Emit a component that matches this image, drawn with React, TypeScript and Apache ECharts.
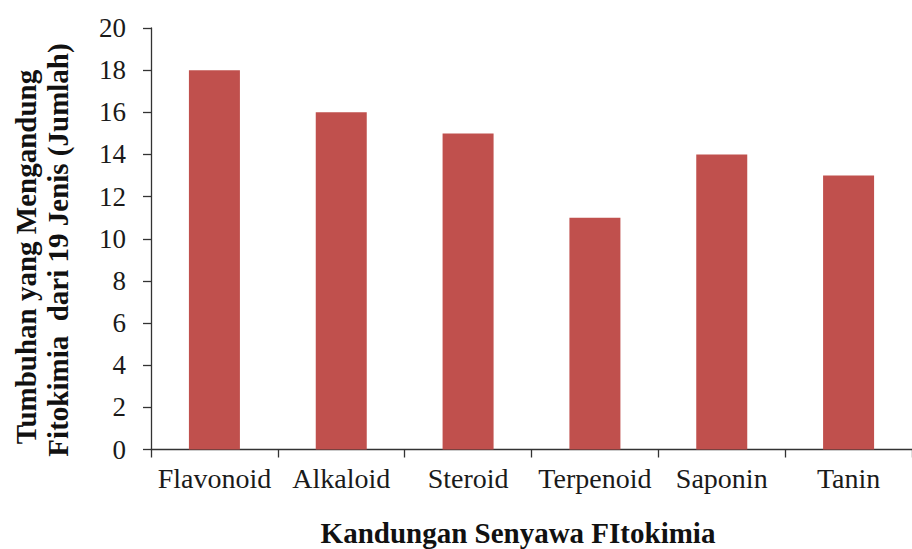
import React, { useEffect, useRef } from "react";
import * as echarts from "echarts";

const categories = ["Flavonoid", "Alkaloid", "Steroid", "Terpenoid", "Saponin", "Tanin"];
const values = [18, 16, 15, 11, 14, 13];
const yTitleLine1 = "Tumbuhan yang Mengandung";
const yTitleLine2 = "Fitokimia  dari 19 Jenis (Jumlah)";
const xTitle = "Kandungan Senyawa FItokimia";

const FONT = "'Liberation Serif', 'Times New Roman', serif";

export default function App() {
  const ref = useRef<HTMLDivElement>(null);
  useEffect(() => {
    if (!ref.current) return;
    const chart = echarts.init(ref.current, undefined, { renderer: "svg" });
    chart.setOption({
      animation: false,
      backgroundColor: "#ffffff",
      grid: { left: 151, top: 28, width: 770, height: 421.5, containLabel: false },
      xAxis: {
        type: "category",
        data: categories,
        axisLine: { lineStyle: { color: "#333", width: 1.3 } },
        axisTick: { show: true, alignWithLabel: false, length: 8, lineStyle: { color: "#333", width: 1.3 } },
        axisLabel: { fontFamily: FONT, fontSize: 28, color: "#1a1a1a", margin: 15, interval: 0 },
        splitLine: { show: false },
      },
      yAxis: {
        type: "value",
        min: 0,
        max: 20,
        interval: 2,
        axisLine: { show: true, lineStyle: { color: "#333", width: 1.3 } },
        axisTick: { show: true, length: 8, lineStyle: { color: "#333", width: 1.3 } },
        axisLabel: { fontFamily: FONT, fontSize: 27, color: "#1a1a1a", margin: 25 },
        splitLine: { show: false },
      },
      series: [
        {
          type: "bar",
          data: values,
          barWidth: 51,
          itemStyle: { color: "#C0504D" },
        },
      ],
      graphic: [
        {
          type: "text",
          x: 26,
          y: 257,
          rotation: Math.PI / 2,
          style: {
            text: yTitleLine1,
            font: `bold 29px ${FONT}`,
            fill: "#111",
            textAlign: "center",
            textVerticalAlign: "middle",
          },
        },
        {
          type: "text",
          x: 58,
          y: 250,
          rotation: Math.PI / 2,
          style: {
            text: yTitleLine2,
            font: `bold 29px ${FONT}`,
            fill: "#111",
            textAlign: "center",
            textVerticalAlign: "middle",
          },
        },
        {
          type: "text",
          x: 518,
          y: 533,
          style: {
            text: xTitle,
            font: `bold 29px ${FONT}`,
            fill: "#111",
            textAlign: "center",
            textVerticalAlign: "middle",
          },
        },
      ],
    });
    return () => chart.dispose();
  }, []);
  return <div ref={ref} style={{ width: 912, height: 549, position: "absolute", left: 0, top: 0 }} />;
}
